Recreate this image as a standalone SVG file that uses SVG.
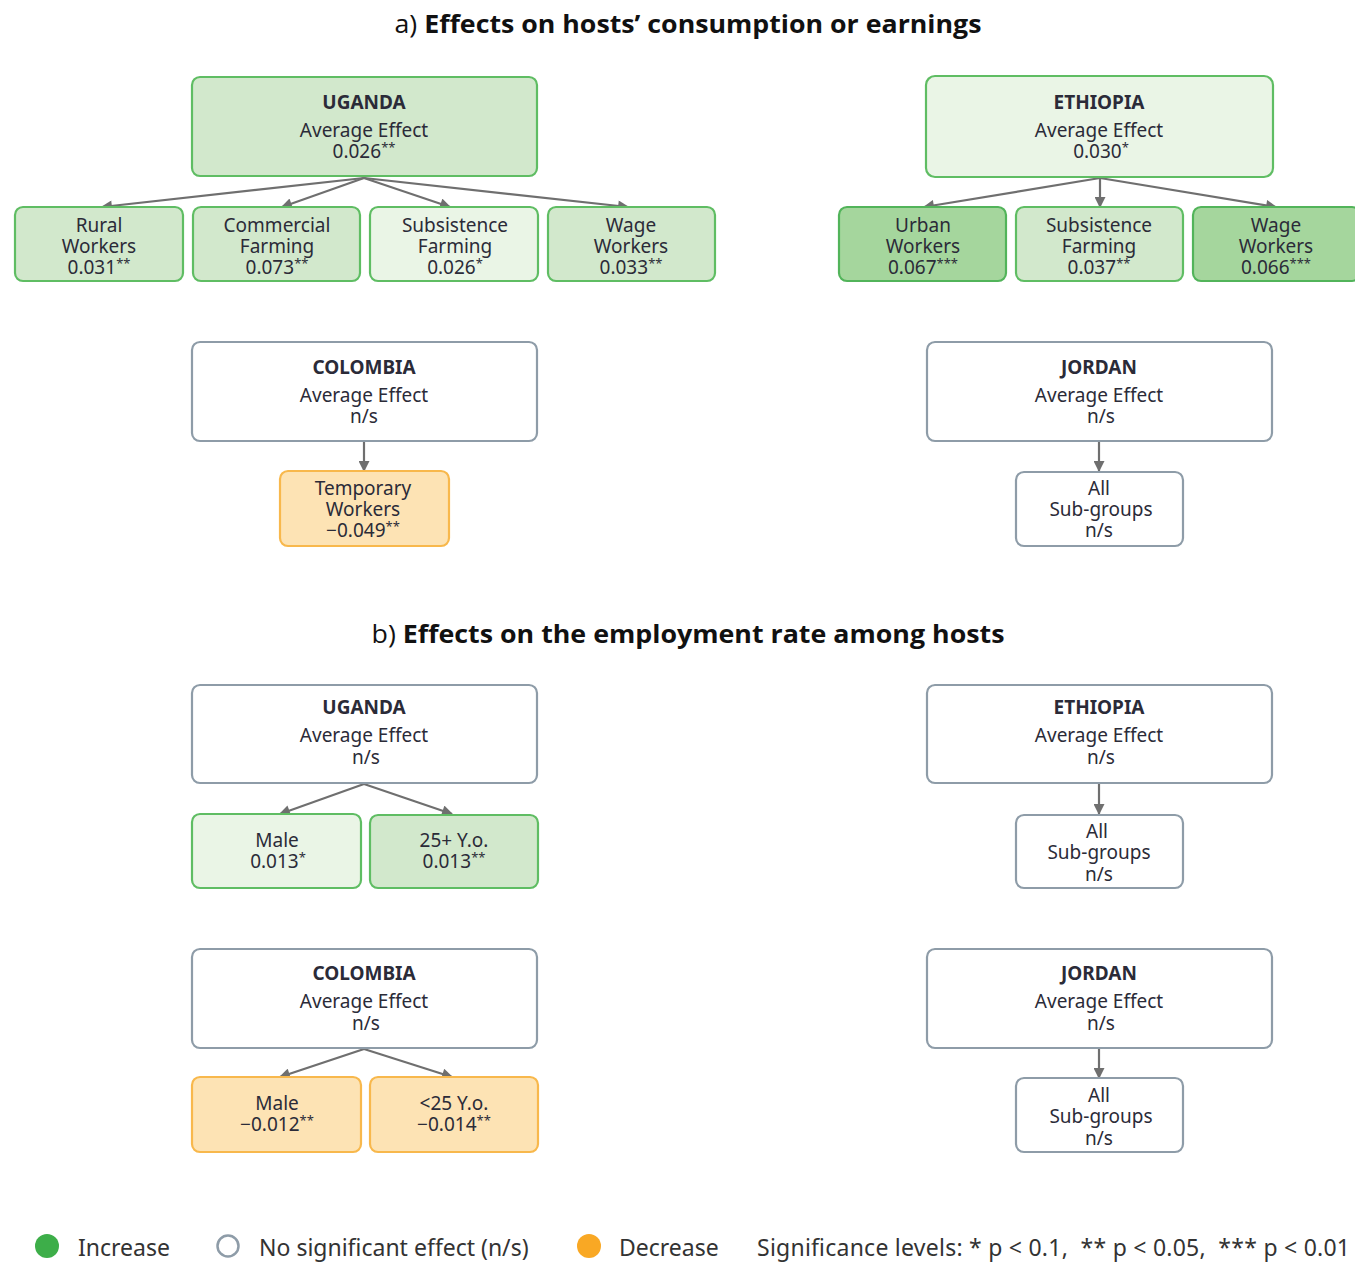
<svg xmlns="http://www.w3.org/2000/svg" width="1355" height="1262" viewBox="0 0 1355 1262">
<style>
.bg{fill:#ffffff}
.box{stroke-width:2.2}
.g2{fill:#d2e8cc;stroke:#5fbd63}
.g1{fill:#eaf5e6;stroke:#5fbd63}
.g3{fill:#a5d69d;stroke:#52b45a}
.ns{fill:#ffffff;stroke:#8e9ca8}
.or{fill:#fde3b4;stroke:#f8b84c}
text{font-family:"Noto Sans","Open Sans","DejaVu Sans",sans-serif;fill:#2b2b38;text-anchor:middle}
.t{font-size:19px}
.h{font-size:19px;font-weight:bold}
.s{font-size:13px}
.title{font-family:"Open Sans","Noto Sans",sans-serif;font-size:25px;fill:#111}
.leg{font-size:23px;text-anchor:start;fill:#333}
.conn line{stroke:#6f6f6f;stroke-width:2.2;fill:none}
</style>
<defs>
<marker id="ah" viewBox="0 0 10 10" refX="9" refY="5" markerWidth="5.5" markerHeight="5" orient="auto" markerUnits="strokeWidth">
<path d="M0,0 L10,5 L0,10 z" fill="#6f6f6f"/>
</marker>
</defs>
<rect class="bg" x="0" y="0" width="1355" height="1262"/>

<text class="title" x="688" y="33" textLength="587" lengthAdjust="spacingAndGlyphs">a) <tspan font-weight="bold">Effects on hosts’ consumption or earnings</tspan></text>
<text class="title" x="688" y="643" textLength="633" lengthAdjust="spacingAndGlyphs">b) <tspan font-weight="bold">Effects on the employment rate among hosts</tspan></text>

<g class="conn">
<line x1="364" y1="178" x2="102" y2="207" marker-end="url(#ah)"/>
<line x1="364" y1="178" x2="282" y2="207" marker-end="url(#ah)"/>
<line x1="364" y1="178" x2="450" y2="207" marker-end="url(#ah)"/>
<line x1="364" y1="178" x2="628" y2="207" marker-end="url(#ah)"/>
<line x1="1100" y1="178" x2="924" y2="207" marker-end="url(#ah)"/>
<line x1="1100" y1="178" x2="1100" y2="207" marker-end="url(#ah)"/>
<line x1="1100" y1="178" x2="1276" y2="207" marker-end="url(#ah)"/>
<line x1="364" y1="442" x2="364" y2="471" marker-end="url(#ah)"/>
<line x1="1099" y1="442" x2="1099" y2="471" marker-end="url(#ah)"/>
<line x1="364" y1="784" x2="280" y2="814" marker-end="url(#ah)"/>
<line x1="364" y1="784" x2="452" y2="814" marker-end="url(#ah)"/>
<line x1="1099" y1="784" x2="1099" y2="814" marker-end="url(#ah)"/>
<line x1="364" y1="1049" x2="280" y2="1077" marker-end="url(#ah)"/>
<line x1="364" y1="1049" x2="452" y2="1077" marker-end="url(#ah)"/>
<line x1="1099" y1="1049" x2="1099" y2="1078" marker-end="url(#ah)"/>
</g>

<!-- a) Uganda -->
<g id="a-uganda">
<rect class="box g2" x="192" y="77" width="345" height="99" rx="8"/>
<text class="h" x="364" y="109">UGANDA</text>
<text class="t" x="364" y="137">Average Effect</text>
<text class="t" x="364" y="158">0.026<tspan class="s" dy="-6">**</tspan></text>
</g>
<g id="a-uganda-rural">
<rect class="box g2" x="15" y="207" width="168" height="74" rx="8"/>
<text class="t" x="99" y="232">Rural</text>
<text class="t" x="99" y="253">Workers</text>
<text class="t" x="99" y="274">0.031<tspan class="s" dy="-6">**</tspan></text>
</g>
<g id="a-uganda-commercial">
<rect class="box g2" x="193" y="207" width="167" height="74" rx="8"/>
<text class="t" x="277" y="232">Commercial</text>
<text class="t" x="277" y="253">Farming</text>
<text class="t" x="277" y="274">0.073<tspan class="s" dy="-6">**</tspan></text>
</g>
<g id="a-uganda-subsistence">
<rect class="box g1" x="370" y="207" width="168" height="74" rx="8"/>
<text class="t" x="455" y="232">Subsistence</text>
<text class="t" x="455" y="253">Farming</text>
<text class="t" x="455" y="274">0.026<tspan class="s" dy="-6">*</tspan></text>
</g>
<g id="a-uganda-wage">
<rect class="box g2" x="548" y="207" width="167" height="74" rx="8"/>
<text class="t" x="631" y="232">Wage</text>
<text class="t" x="631" y="253">Workers</text>
<text class="t" x="631" y="274">0.033<tspan class="s" dy="-6">**</tspan></text>
</g>

<!-- a) Ethiopia -->
<g id="a-ethiopia">
<rect class="box g1" x="926" y="76" width="347" height="101" rx="9"/>
<text class="h" x="1099" y="109">ETHIOPIA</text>
<text class="t" x="1099" y="137">Average Effect</text>
<text class="t" x="1101" y="158">0.030<tspan class="s" dy="-6">*</tspan></text>
</g>
<g id="a-ethiopia-urban">
<rect class="box g3" x="839" y="207" width="167" height="74" rx="8"/>
<text class="t" x="923" y="232">Urban</text>
<text class="t" x="923" y="253">Workers</text>
<text class="t" x="923" y="274">0.067<tspan class="s" dy="-6">***</tspan></text>
</g>
<g id="a-ethiopia-subsistence">
<rect class="box g2" x="1016" y="207" width="167" height="74" rx="8"/>
<text class="t" x="1099" y="232">Subsistence</text>
<text class="t" x="1099" y="253">Farming</text>
<text class="t" x="1099" y="274">0.037<tspan class="s" dy="-6">**</tspan></text>
</g>
<g id="a-ethiopia-wage">
<rect class="box g3" x="1193" y="207" width="167" height="74" rx="8"/>
<text class="t" x="1276" y="232">Wage</text>
<text class="t" x="1276" y="253">Workers</text>
<text class="t" x="1276" y="274">0.066<tspan class="s" dy="-6">***</tspan></text>
</g>

<!-- a) Colombia -->
<g id="a-colombia">
<rect class="box ns" x="192" y="342" width="345" height="99" rx="8"/>
<text class="h" x="364" y="374">COLOMBIA</text>
<text class="t" x="364" y="402">Average Effect</text>
<text class="t" x="364" y="423">n/s</text>
</g>
<g id="a-colombia-temporary">
<rect class="box or" x="280" y="471" width="169" height="75" rx="8"/>
<text class="t" x="363" y="495">Temporary</text>
<text class="t" x="363" y="516">Workers</text>
<text class="t" x="363" y="537">−0.049<tspan class="s" dy="-6">**</tspan></text>
</g>

<!-- a) Jordan -->
<g id="a-jordan">
<rect class="box ns" x="927" y="342" width="345" height="99" rx="8"/>
<text class="h" x="1099" y="374">JORDAN</text>
<text class="t" x="1099" y="402">Average Effect</text>
<text class="t" x="1101" y="423">n/s</text>
</g>
<g id="a-jordan-all">
<rect class="box ns" x="1016" y="472" width="167" height="74" rx="8"/>
<text class="t" x="1099" y="495">All</text>
<text class="t" x="1101" y="516">Sub-groups</text>
<text class="t" x="1099" y="537">n/s</text>
</g>

<!-- b) Uganda -->
<g id="b-uganda">
<rect class="box ns" x="192" y="685" width="345" height="98" rx="8"/>
<text class="h" x="364" y="714">UGANDA</text>
<text class="t" x="364" y="742">Average Effect</text>
<text class="t" x="366" y="764">n/s</text>
</g>
<g id="b-uganda-male">
<rect class="box g1" x="192" y="814" width="169" height="74" rx="8"/>
<text class="t" x="277" y="847">Male</text>
<text class="t" x="278" y="868">0.013<tspan class="s" dy="-6">*</tspan></text>
</g>
<g id="b-uganda-25">
<rect class="box g2" x="370" y="815" width="168" height="73" rx="8"/>
<text class="t" x="454" y="847">25+ Y.o.</text>
<text class="t" x="454" y="868">0.013<tspan class="s" dy="-6">**</tspan></text>
</g>

<!-- b) Ethiopia -->
<g id="b-ethiopia">
<rect class="box ns" x="927" y="685" width="345" height="98" rx="8"/>
<text class="h" x="1099" y="714">ETHIOPIA</text>
<text class="t" x="1099" y="742">Average Effect</text>
<text class="t" x="1101" y="764">n/s</text>
</g>
<g id="b-ethiopia-all">
<rect class="box ns" x="1016" y="815" width="167" height="73" rx="8"/>
<text class="t" x="1097" y="838">All</text>
<text class="t" x="1099" y="859">Sub-groups</text>
<text class="t" x="1099" y="881">n/s</text>
</g>

<!-- b) Colombia -->
<g id="b-colombia">
<rect class="box ns" x="192" y="949" width="345" height="99" rx="8"/>
<text class="h" x="364" y="980">COLOMBIA</text>
<text class="t" x="364" y="1008">Average Effect</text>
<text class="t" x="366" y="1030">n/s</text>
</g>
<g id="b-colombia-male">
<rect class="box or" x="192" y="1077" width="169" height="75" rx="8"/>
<text class="t" x="277" y="1110">Male</text>
<text class="t" x="277" y="1131">−0.012<tspan class="s" dy="-6">**</tspan></text>
</g>
<g id="b-colombia-25">
<rect class="box or" x="370" y="1077" width="168" height="75" rx="8"/>
<text class="t" x="454" y="1110">&lt;25 Y.o.</text>
<text class="t" x="454" y="1131">−0.014<tspan class="s" dy="-6">**</tspan></text>
</g>

<!-- b) Jordan -->
<g id="b-jordan">
<rect class="box ns" x="927" y="949" width="345" height="99" rx="8"/>
<text class="h" x="1099" y="980">JORDAN</text>
<text class="t" x="1099" y="1008">Average Effect</text>
<text class="t" x="1101" y="1030">n/s</text>
</g>
<g id="b-jordan-all">
<rect class="box ns" x="1016" y="1078" width="167" height="74" rx="8"/>
<text class="t" x="1099" y="1102">All</text>
<text class="t" x="1101" y="1123">Sub-groups</text>
<text class="t" x="1099" y="1145">n/s</text>
</g>

<!-- legend -->
<g id="legend">
<circle cx="47" cy="1246" r="12" fill="#3dae49"/>
<text class="leg" x="78" y="1256">Increase</text>
<circle cx="228" cy="1246" r="10.5" fill="#fff" stroke="#8e9ca8" stroke-width="2.5"/>
<text class="leg" x="259" y="1256">No significant effect (n/s)</text>
<circle cx="589" cy="1246" r="12" fill="#f9a824"/>
<text class="leg" x="619" y="1256">Decrease</text>
<text class="leg" x="757" y="1256" xml:space="preserve" textLength="593" lengthAdjust="spacing">Significance levels: * p &lt; 0.1,  ** p &lt; 0.05,  *** p &lt; 0.01</text>
</g>
</svg>
